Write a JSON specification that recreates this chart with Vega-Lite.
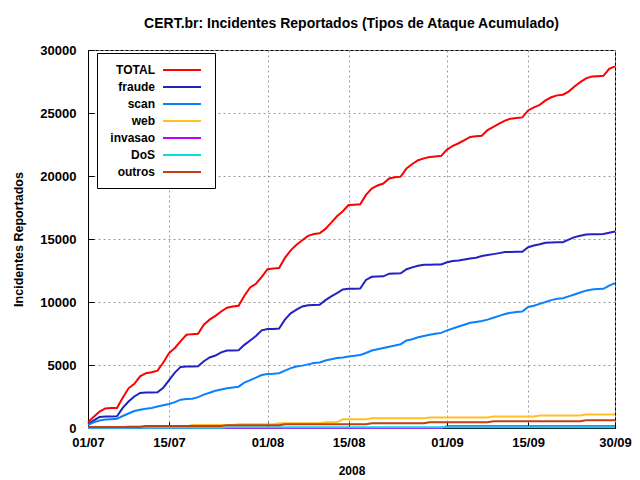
{
"$schema": "https://vega.github.io/schema/vega-lite/v6.json",
"width": 527, "height": 378,
"autosize": "none",
"padding": {"left": 88, "top": 50, "right": 25, "bottom": 52},
"background": "white",
"config": {"font": "Liberation Sans", "view": {"stroke": "black", "strokeWidth": 1}},
"title": {"text": "CERT.br: Incidentes Reportados (Tipos de Ataque Acumulado)", "fontSize": 14, "fontWeight": "bold", "color": "black", "offset": 13, "anchor": "middle"},
"data": {"values": [
{"d":"2008-07-01","s":"TOTAL","v":450},{"d":"2008-07-02","s":"TOTAL","v":900},{"d":"2008-07-03","s":"TOTAL","v":1300},{"d":"2008-07-04","s":"TOTAL","v":1550},{"d":"2008-07-05","s":"TOTAL","v":1580},{"d":"2008-07-06","s":"TOTAL","v":1590},{"d":"2008-07-07","s":"TOTAL","v":2400},{"d":"2008-07-08","s":"TOTAL","v":3150},{"d":"2008-07-09","s":"TOTAL","v":3500},{"d":"2008-07-10","s":"TOTAL","v":4100},
{"d":"2008-07-11","s":"TOTAL","v":4350},{"d":"2008-07-12","s":"TOTAL","v":4420},{"d":"2008-07-13","s":"TOTAL","v":4550},{"d":"2008-07-14","s":"TOTAL","v":5200},{"d":"2008-07-15","s":"TOTAL","v":5950},{"d":"2008-07-16","s":"TOTAL","v":6350},{"d":"2008-07-17","s":"TOTAL","v":6900},{"d":"2008-07-18","s":"TOTAL","v":7400},{"d":"2008-07-19","s":"TOTAL","v":7450},{"d":"2008-07-20","s":"TOTAL","v":7480},
{"d":"2008-07-21","s":"TOTAL","v":8200},{"d":"2008-07-22","s":"TOTAL","v":8600},{"d":"2008-07-23","s":"TOTAL","v":8900},{"d":"2008-07-24","s":"TOTAL","v":9250},{"d":"2008-07-25","s":"TOTAL","v":9550},{"d":"2008-07-26","s":"TOTAL","v":9650},{"d":"2008-07-27","s":"TOTAL","v":9700},{"d":"2008-07-28","s":"TOTAL","v":10500},{"d":"2008-07-29","s":"TOTAL","v":11150},{"d":"2008-07-30","s":"TOTAL","v":11450},
{"d":"2008-07-31","s":"TOTAL","v":12000},{"d":"2008-08-01","s":"TOTAL","v":12600},{"d":"2008-08-02","s":"TOTAL","v":12650},{"d":"2008-08-03","s":"TOTAL","v":12700},{"d":"2008-08-04","s":"TOTAL","v":13500},{"d":"2008-08-05","s":"TOTAL","v":14100},{"d":"2008-08-06","s":"TOTAL","v":14550},{"d":"2008-08-07","s":"TOTAL","v":14900},{"d":"2008-08-08","s":"TOTAL","v":15250},{"d":"2008-08-09","s":"TOTAL","v":15400},
{"d":"2008-08-10","s":"TOTAL","v":15450},{"d":"2008-08-11","s":"TOTAL","v":15800},{"d":"2008-08-12","s":"TOTAL","v":16300},{"d":"2008-08-13","s":"TOTAL","v":16800},{"d":"2008-08-14","s":"TOTAL","v":17200},{"d":"2008-08-15","s":"TOTAL","v":17700},{"d":"2008-08-16","s":"TOTAL","v":17720},{"d":"2008-08-17","s":"TOTAL","v":17750},{"d":"2008-08-18","s":"TOTAL","v":18500},{"d":"2008-08-19","s":"TOTAL","v":19000},
{"d":"2008-08-20","s":"TOTAL","v":19250},{"d":"2008-08-21","s":"TOTAL","v":19400},{"d":"2008-08-22","s":"TOTAL","v":19800},{"d":"2008-08-23","s":"TOTAL","v":19900},{"d":"2008-08-24","s":"TOTAL","v":19950},{"d":"2008-08-25","s":"TOTAL","v":20600},{"d":"2008-08-26","s":"TOTAL","v":20950},{"d":"2008-08-27","s":"TOTAL","v":21250},{"d":"2008-08-28","s":"TOTAL","v":21400},{"d":"2008-08-29","s":"TOTAL","v":21500},
{"d":"2008-08-30","s":"TOTAL","v":21550},{"d":"2008-08-31","s":"TOTAL","v":21600},{"d":"2008-09-01","s":"TOTAL","v":22100},{"d":"2008-09-02","s":"TOTAL","v":22400},{"d":"2008-09-03","s":"TOTAL","v":22600},{"d":"2008-09-04","s":"TOTAL","v":22850},{"d":"2008-09-05","s":"TOTAL","v":23100},{"d":"2008-09-06","s":"TOTAL","v":23150},{"d":"2008-09-07","s":"TOTAL","v":23200},{"d":"2008-09-08","s":"TOTAL","v":23650},
{"d":"2008-09-09","s":"TOTAL","v":23900},{"d":"2008-09-10","s":"TOTAL","v":24150},{"d":"2008-09-11","s":"TOTAL","v":24400},{"d":"2008-09-12","s":"TOTAL","v":24550},{"d":"2008-09-13","s":"TOTAL","v":24600},{"d":"2008-09-14","s":"TOTAL","v":24650},{"d":"2008-09-15","s":"TOTAL","v":25200},{"d":"2008-09-16","s":"TOTAL","v":25450},{"d":"2008-09-17","s":"TOTAL","v":25650},{"d":"2008-09-18","s":"TOTAL","v":26000},
{"d":"2008-09-19","s":"TOTAL","v":26250},{"d":"2008-09-20","s":"TOTAL","v":26400},{"d":"2008-09-21","s":"TOTAL","v":26450},{"d":"2008-09-22","s":"TOTAL","v":26700},{"d":"2008-09-23","s":"TOTAL","v":27100},{"d":"2008-09-24","s":"TOTAL","v":27450},{"d":"2008-09-25","s":"TOTAL","v":27750},{"d":"2008-09-26","s":"TOTAL","v":27900},{"d":"2008-09-27","s":"TOTAL","v":27920},{"d":"2008-09-28","s":"TOTAL","v":27950},
{"d":"2008-09-29","s":"TOTAL","v":28500},{"d":"2008-09-30","s":"TOTAL","v":28700},

{"d":"2008-07-01","s":"fraude","v":300},{"d":"2008-07-02","s":"fraude","v":600},{"d":"2008-07-03","s":"fraude","v":880},{"d":"2008-07-04","s":"fraude","v":920},{"d":"2008-07-05","s":"fraude","v":920},{"d":"2008-07-06","s":"fraude","v":930},{"d":"2008-07-07","s":"fraude","v":1600},{"d":"2008-07-08","s":"fraude","v":2100},{"d":"2008-07-09","s":"fraude","v":2500},{"d":"2008-07-10","s":"fraude","v":2780},
{"d":"2008-07-11","s":"fraude","v":2820},{"d":"2008-07-12","s":"fraude","v":2820},{"d":"2008-07-13","s":"fraude","v":2830},{"d":"2008-07-14","s":"fraude","v":3200},{"d":"2008-07-15","s":"fraude","v":3800},{"d":"2008-07-16","s":"fraude","v":4400},{"d":"2008-07-17","s":"fraude","v":4850},{"d":"2008-07-18","s":"fraude","v":4880},{"d":"2008-07-19","s":"fraude","v":4890},{"d":"2008-07-20","s":"fraude","v":4900},
{"d":"2008-07-21","s":"fraude","v":5300},{"d":"2008-07-22","s":"fraude","v":5600},{"d":"2008-07-23","s":"fraude","v":5750},{"d":"2008-07-24","s":"fraude","v":6000},{"d":"2008-07-25","s":"fraude","v":6150},{"d":"2008-07-26","s":"fraude","v":6160},{"d":"2008-07-27","s":"fraude","v":6170},{"d":"2008-07-28","s":"fraude","v":6600},{"d":"2008-07-29","s":"fraude","v":6950},{"d":"2008-07-30","s":"fraude","v":7300},
{"d":"2008-07-31","s":"fraude","v":7750},{"d":"2008-08-01","s":"fraude","v":7850},{"d":"2008-08-02","s":"fraude","v":7860},{"d":"2008-08-03","s":"fraude","v":7900},{"d":"2008-08-04","s":"fraude","v":8600},{"d":"2008-08-05","s":"fraude","v":9100},{"d":"2008-08-06","s":"fraude","v":9400},{"d":"2008-08-07","s":"fraude","v":9650},{"d":"2008-08-08","s":"fraude","v":9750},{"d":"2008-08-09","s":"fraude","v":9760},
{"d":"2008-08-10","s":"fraude","v":9780},{"d":"2008-08-11","s":"fraude","v":10150},{"d":"2008-08-12","s":"fraude","v":10450},{"d":"2008-08-13","s":"fraude","v":10700},{"d":"2008-08-14","s":"fraude","v":11000},{"d":"2008-08-15","s":"fraude","v":11050},{"d":"2008-08-16","s":"fraude","v":11060},{"d":"2008-08-17","s":"fraude","v":11070},{"d":"2008-08-18","s":"fraude","v":11750},{"d":"2008-08-19","s":"fraude","v":12000},
{"d":"2008-08-20","s":"fraude","v":12030},{"d":"2008-08-21","s":"fraude","v":12040},{"d":"2008-08-22","s":"fraude","v":12250},{"d":"2008-08-23","s":"fraude","v":12270},{"d":"2008-08-24","s":"fraude","v":12280},{"d":"2008-08-25","s":"fraude","v":12600},{"d":"2008-08-26","s":"fraude","v":12750},{"d":"2008-08-27","s":"fraude","v":12880},{"d":"2008-08-28","s":"fraude","v":12950},{"d":"2008-08-29","s":"fraude","v":12960},
{"d":"2008-08-30","s":"fraude","v":12970},{"d":"2008-08-31","s":"fraude","v":12980},{"d":"2008-09-01","s":"fraude","v":13150},{"d":"2008-09-02","s":"fraude","v":13250},{"d":"2008-09-03","s":"fraude","v":13300},{"d":"2008-09-04","s":"fraude","v":13380},{"d":"2008-09-05","s":"fraude","v":13460},{"d":"2008-09-06","s":"fraude","v":13520},{"d":"2008-09-07","s":"fraude","v":13650},{"d":"2008-09-08","s":"fraude","v":13730},
{"d":"2008-09-09","s":"fraude","v":13800},{"d":"2008-09-10","s":"fraude","v":13880},{"d":"2008-09-11","s":"fraude","v":13960},{"d":"2008-09-12","s":"fraude","v":13970},{"d":"2008-09-13","s":"fraude","v":13980},{"d":"2008-09-14","s":"fraude","v":13990},{"d":"2008-09-15","s":"fraude","v":14350},{"d":"2008-09-16","s":"fraude","v":14480},{"d":"2008-09-17","s":"fraude","v":14580},{"d":"2008-09-18","s":"fraude","v":14700},
{"d":"2008-09-19","s":"fraude","v":14730},{"d":"2008-09-20","s":"fraude","v":14740},{"d":"2008-09-21","s":"fraude","v":14750},{"d":"2008-09-22","s":"fraude","v":14950},{"d":"2008-09-23","s":"fraude","v":15150},{"d":"2008-09-24","s":"fraude","v":15260},{"d":"2008-09-25","s":"fraude","v":15350},{"d":"2008-09-26","s":"fraude","v":15370},{"d":"2008-09-27","s":"fraude","v":15380},{"d":"2008-09-28","s":"fraude","v":15390},
{"d":"2008-09-29","s":"fraude","v":15500},{"d":"2008-09-30","s":"fraude","v":15600},

{"d":"2008-07-01","s":"scan","v":250},{"d":"2008-07-02","s":"scan","v":450},{"d":"2008-07-03","s":"scan","v":600},{"d":"2008-07-04","s":"scan","v":680},{"d":"2008-07-05","s":"scan","v":700},{"d":"2008-07-06","s":"scan","v":730},{"d":"2008-07-07","s":"scan","v":950},{"d":"2008-07-08","s":"scan","v":1150},{"d":"2008-07-09","s":"scan","v":1350},{"d":"2008-07-10","s":"scan","v":1450},
{"d":"2008-07-11","s":"scan","v":1520},{"d":"2008-07-12","s":"scan","v":1590},{"d":"2008-07-13","s":"scan","v":1700},{"d":"2008-07-14","s":"scan","v":1800},{"d":"2008-07-15","s":"scan","v":1900},{"d":"2008-07-16","s":"scan","v":2050},{"d":"2008-07-17","s":"scan","v":2250},{"d":"2008-07-18","s":"scan","v":2300},{"d":"2008-07-19","s":"scan","v":2320},{"d":"2008-07-20","s":"scan","v":2450},
{"d":"2008-07-21","s":"scan","v":2650},{"d":"2008-07-22","s":"scan","v":2800},{"d":"2008-07-23","s":"scan","v":2950},{"d":"2008-07-24","s":"scan","v":3050},{"d":"2008-07-25","s":"scan","v":3150},{"d":"2008-07-26","s":"scan","v":3220},{"d":"2008-07-27","s":"scan","v":3280},{"d":"2008-07-28","s":"scan","v":3600},{"d":"2008-07-29","s":"scan","v":3800},{"d":"2008-07-30","s":"scan","v":4000},
{"d":"2008-07-31","s":"scan","v":4200},{"d":"2008-08-01","s":"scan","v":4280},{"d":"2008-08-02","s":"scan","v":4300},{"d":"2008-08-03","s":"scan","v":4350},{"d":"2008-08-04","s":"scan","v":4550},{"d":"2008-08-05","s":"scan","v":4750},{"d":"2008-08-06","s":"scan","v":4880},{"d":"2008-08-07","s":"scan","v":4950},{"d":"2008-08-08","s":"scan","v":5050},{"d":"2008-08-09","s":"scan","v":5150},
{"d":"2008-08-10","s":"scan","v":5200},{"d":"2008-08-11","s":"scan","v":5350},{"d":"2008-08-12","s":"scan","v":5450},{"d":"2008-08-13","s":"scan","v":5550},{"d":"2008-08-14","s":"scan","v":5600},{"d":"2008-08-15","s":"scan","v":5680},{"d":"2008-08-16","s":"scan","v":5730},{"d":"2008-08-17","s":"scan","v":5800},{"d":"2008-08-18","s":"scan","v":5950},{"d":"2008-08-19","s":"scan","v":6150},
{"d":"2008-08-20","s":"scan","v":6250},{"d":"2008-08-21","s":"scan","v":6350},{"d":"2008-08-22","s":"scan","v":6450},{"d":"2008-08-23","s":"scan","v":6550},{"d":"2008-08-24","s":"scan","v":6650},{"d":"2008-08-25","s":"scan","v":6950},{"d":"2008-08-26","s":"scan","v":7050},{"d":"2008-08-27","s":"scan","v":7200},{"d":"2008-08-28","s":"scan","v":7300},{"d":"2008-08-29","s":"scan","v":7400},
{"d":"2008-08-30","s":"scan","v":7480},{"d":"2008-08-31","s":"scan","v":7550},{"d":"2008-09-01","s":"scan","v":7750},{"d":"2008-09-02","s":"scan","v":7900},{"d":"2008-09-03","s":"scan","v":8050},{"d":"2008-09-04","s":"scan","v":8200},{"d":"2008-09-05","s":"scan","v":8350},{"d":"2008-09-06","s":"scan","v":8420},{"d":"2008-09-07","s":"scan","v":8500},{"d":"2008-09-08","s":"scan","v":8600},
{"d":"2008-09-09","s":"scan","v":8750},{"d":"2008-09-10","s":"scan","v":8900},{"d":"2008-09-11","s":"scan","v":9050},{"d":"2008-09-12","s":"scan","v":9150},{"d":"2008-09-13","s":"scan","v":9200},{"d":"2008-09-14","s":"scan","v":9250},{"d":"2008-09-15","s":"scan","v":9600},{"d":"2008-09-16","s":"scan","v":9700},{"d":"2008-09-17","s":"scan","v":9850},{"d":"2008-09-18","s":"scan","v":10000},
{"d":"2008-09-19","s":"scan","v":10150},{"d":"2008-09-20","s":"scan","v":10250},{"d":"2008-09-21","s":"scan","v":10300},{"d":"2008-09-22","s":"scan","v":10450},{"d":"2008-09-23","s":"scan","v":10600},{"d":"2008-09-24","s":"scan","v":10750},{"d":"2008-09-25","s":"scan","v":10900},{"d":"2008-09-26","s":"scan","v":11000},{"d":"2008-09-27","s":"scan","v":11030},{"d":"2008-09-28","s":"scan","v":11050},
{"d":"2008-09-29","s":"scan","v":11300},{"d":"2008-09-30","s":"scan","v":11500},

{"d":"2008-07-01","s":"web","v":0},{"d":"2008-07-02","s":"web","v":0},{"d":"2008-07-03","s":"web","v":0},{"d":"2008-07-04","s":"web","v":0},{"d":"2008-07-05","s":"web","v":0},{"d":"2008-07-06","s":"web","v":0},{"d":"2008-07-07","s":"web","v":0},{"d":"2008-07-08","s":"web","v":130},{"d":"2008-07-09","s":"web","v":130},{"d":"2008-07-10","s":"web","v":130},
{"d":"2008-07-11","s":"web","v":130},{"d":"2008-07-12","s":"web","v":130},{"d":"2008-07-13","s":"web","v":130},{"d":"2008-07-14","s":"web","v":130},{"d":"2008-07-15","s":"web","v":130},{"d":"2008-07-16","s":"web","v":130},{"d":"2008-07-17","s":"web","v":130},{"d":"2008-07-18","s":"web","v":130},{"d":"2008-07-19","s":"web","v":240},{"d":"2008-07-20","s":"web","v":240},
{"d":"2008-07-21","s":"web","v":240},{"d":"2008-07-22","s":"web","v":240},{"d":"2008-07-23","s":"web","v":240},{"d":"2008-07-24","s":"web","v":240},{"d":"2008-07-25","s":"web","v":240},{"d":"2008-07-26","s":"web","v":240},{"d":"2008-07-27","s":"web","v":290},{"d":"2008-07-28","s":"web","v":290},{"d":"2008-07-29","s":"web","v":290},{"d":"2008-07-30","s":"web","v":290},
{"d":"2008-07-31","s":"web","v":290},{"d":"2008-08-01","s":"web","v":290},{"d":"2008-08-02","s":"web","v":290},{"d":"2008-08-03","s":"web","v":370},{"d":"2008-08-04","s":"web","v":370},{"d":"2008-08-05","s":"web","v":370},{"d":"2008-08-06","s":"web","v":370},{"d":"2008-08-07","s":"web","v":370},{"d":"2008-08-08","s":"web","v":370},{"d":"2008-08-09","s":"web","v":370},
{"d":"2008-08-10","s":"web","v":370},{"d":"2008-08-11","s":"web","v":450},{"d":"2008-08-12","s":"web","v":450},{"d":"2008-08-13","s":"web","v":450},{"d":"2008-08-14","s":"web","v":690},{"d":"2008-08-15","s":"web","v":690},{"d":"2008-08-16","s":"web","v":690},{"d":"2008-08-17","s":"web","v":690},{"d":"2008-08-18","s":"web","v":690},{"d":"2008-08-19","s":"web","v":770},
{"d":"2008-08-20","s":"web","v":770},{"d":"2008-08-21","s":"web","v":770},{"d":"2008-08-22","s":"web","v":770},{"d":"2008-08-23","s":"web","v":770},{"d":"2008-08-24","s":"web","v":770},{"d":"2008-08-25","s":"web","v":770},{"d":"2008-08-26","s":"web","v":770},{"d":"2008-08-27","s":"web","v":770},{"d":"2008-08-28","s":"web","v":770},{"d":"2008-08-29","s":"web","v":840},
{"d":"2008-08-30","s":"web","v":840},{"d":"2008-08-31","s":"web","v":840},{"d":"2008-09-01","s":"web","v":840},{"d":"2008-09-02","s":"web","v":840},{"d":"2008-09-03","s":"web","v":840},{"d":"2008-09-04","s":"web","v":840},{"d":"2008-09-05","s":"web","v":840},{"d":"2008-09-06","s":"web","v":840},{"d":"2008-09-07","s":"web","v":840},{"d":"2008-09-08","s":"web","v":840},
{"d":"2008-09-09","s":"web","v":920},{"d":"2008-09-10","s":"web","v":920},{"d":"2008-09-11","s":"web","v":920},{"d":"2008-09-12","s":"web","v":920},{"d":"2008-09-13","s":"web","v":920},{"d":"2008-09-14","s":"web","v":920},{"d":"2008-09-15","s":"web","v":920},{"d":"2008-09-16","s":"web","v":920},{"d":"2008-09-17","s":"web","v":1000},{"d":"2008-09-18","s":"web","v":1000},
{"d":"2008-09-19","s":"web","v":1000},{"d":"2008-09-20","s":"web","v":1000},{"d":"2008-09-21","s":"web","v":1000},{"d":"2008-09-22","s":"web","v":1000},{"d":"2008-09-23","s":"web","v":1000},{"d":"2008-09-24","s":"web","v":1000},{"d":"2008-09-25","s":"web","v":1080},{"d":"2008-09-26","s":"web","v":1080},{"d":"2008-09-27","s":"web","v":1080},{"d":"2008-09-28","s":"web","v":1080},
{"d":"2008-09-29","s":"web","v":1080},{"d":"2008-09-30","s":"web","v":1080},

{"d":"2008-07-01","s":"invasao","v":0},{"d":"2008-07-11","s":"invasao","v":0},{"d":"2008-07-21","s":"invasao","v":0},{"d":"2008-07-31","s":"invasao","v":0},{"d":"2008-08-10","s":"invasao","v":0},{"d":"2008-08-20","s":"invasao","v":0},{"d":"2008-08-31","s":"invasao","v":0},{"d":"2008-09-01","s":"invasao","v":140},{"d":"2008-09-10","s":"invasao","v":140},{"d":"2008-09-20","s":"invasao","v":140},{"d":"2008-09-30","s":"invasao","v":140},

{"d":"2008-07-01","s":"DoS","v":10},{"d":"2008-07-12","s":"DoS","v":10},{"d":"2008-07-24","s":"DoS","v":10},{"d":"2008-07-25","s":"DoS","v":50},{"d":"2008-08-10","s":"DoS","v":50},{"d":"2008-08-25","s":"DoS","v":50},{"d":"2008-09-10","s":"DoS","v":50},{"d":"2008-09-30","s":"DoS","v":50},

{"d":"2008-07-01","s":"outros","v":80},{"d":"2008-07-10","s":"outros","v":80},{"d":"2008-07-11","s":"outros","v":160},{"d":"2008-07-24","s":"outros","v":160},{"d":"2008-07-25","s":"outros","v":210},{"d":"2008-08-03","s":"outros","v":210},{"d":"2008-08-04","s":"outros","v":290},{"d":"2008-08-18","s":"outros","v":290},{"d":"2008-08-19","s":"outros","v":370},{"d":"2008-08-28","s":"outros","v":370},
{"d":"2008-08-29","s":"outros","v":450},{"d":"2008-09-08","s":"outros","v":450},{"d":"2008-09-09","s":"outros","v":530},{"d":"2008-09-24","s":"outros","v":530},{"d":"2008-09-25","s":"outros","v":610},{"d":"2008-09-30","s":"outros","v":610}
]},
"mark": {"type": "line", "strokeWidth": 2},
"encoding": {
"x": {"field": "d", "type": "temporal",
 "scale": {"type": "utc", "domain": [{"year":2008,"month":7,"date":1,"utc":true},{"year":2008,"month":9,"date":30,"utc":true}]},
 "axis": {"title": "2008", "format": "%d/%m",
  "values": [{"year":2008,"month":7,"date":1,"utc":true},{"year":2008,"month":7,"date":15,"utc":true},{"year":2008,"month":8,"date":1,"utc":true},{"year":2008,"month":8,"date":15,"utc":true},{"year":2008,"month":9,"date":1,"utc":true},{"year":2008,"month":9,"date":15,"utc":true},{"year":2008,"month":9,"date":30,"utc":true}],
  "labelFontSize": 13, "labelFontWeight": "bold", "labelColor": "black", "labelPadding": 14, "ticks": true, "tickSize": -6, "tickColor": "black",
  "titleFontSize": 12, "titleFontWeight": "bold", "titleColor": "black", "titlePadding": 16,
  "domainColor": "black", "grid": true, "gridDash": [2,3], "gridColor": "#999999", "labelFlush": false}},
"y": {"field": "v", "type": "quantitative", "scale": {"domain": [0,30000], "nice": false},
 "axis": {"title": "Incidentes Reportados", "values": [0,5000,10000,15000,20000,25000,30000], "format": "d",
  "labelFontSize": 13, "labelFontWeight": "bold", "labelColor": "black", "labelPadding": 18, "ticks": true, "tickSize": -6, "tickColor": "black",
  "titleFontSize": 12.5, "titleFontWeight": "bold", "titleColor": "black", "titlePadding": 14,
  "domainColor": "black", "grid": true, "gridDash": [2,3], "gridColor": "#999999"}},
"color": {"field": "s", "type": "nominal",
 "scale": {"domain": ["TOTAL","fraude","scan","web","invasao","DoS","outros"], "range": ["#ff0000","#2222c0","#0a80ff","#ffc020","#c000ff","#00e0e0","#c04010"]},
 "legend": {"orient": "none", "legendX": 9, "legendY": 3, "title": null, "strokeColor": "black", "fillColor": "white", "padding": 10,
  "symbolType": "M8.17,0H14.5", "symbolSize": 144, "symbolStrokeWidth": 2, "symbolFillColor": "transparent",
  "labelFontSize": 12, "labelFontWeight": "bold", "labelColor": "black",
  "labelAlign": "right", "labelOffset": 34, "rowPadding": 4}}
}
}
